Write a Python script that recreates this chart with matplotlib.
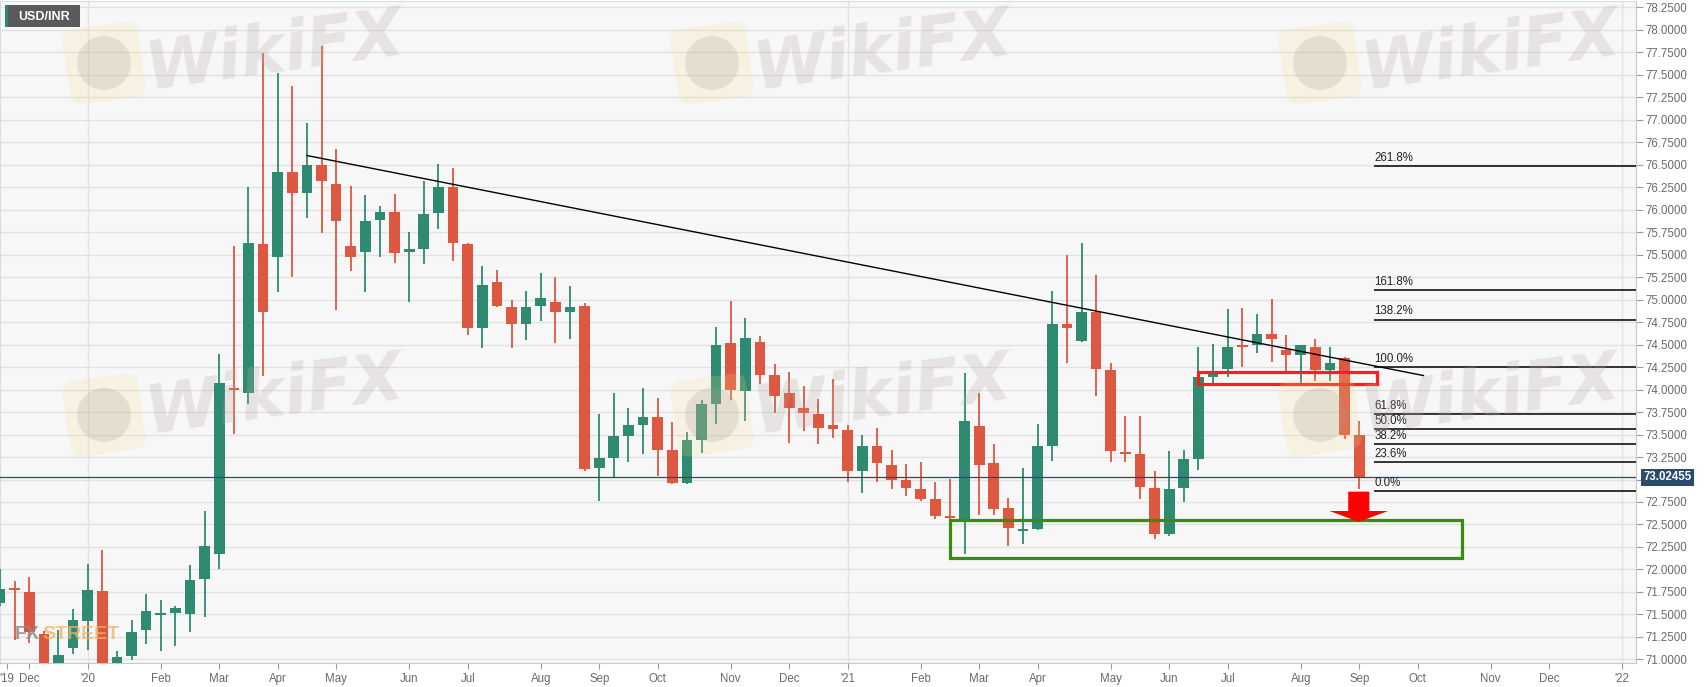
import matplotlib
matplotlib.use("Agg")
import matplotlib.pyplot as plt
import matplotlib.transforms as mtransforms
from matplotlib.patches import Rectangle, FancyBboxPatch, Circle
import numpy as np

plt.rcParams['font.family'] = ['Liberation Sans', 'DejaVu Sans']

# weekly USD/INR candles, index 0 = last week of Nov 2019
opens = [71.63, 71.79, 71.75, 71.28, 70.90, 71.13, 71.43, 71.76, 70.95, 71.04,
         71.33, 71.49, 71.52, 71.51, 71.89, 72.17, 74.02, 73.96, 75.62, 75.47,
         76.42, 76.18, 76.49, 76.28, 75.59, 75.53, 75.88, 75.97, 75.53, 75.56,
         75.96, 76.25, 75.62, 74.68, 75.19, 74.92, 74.73, 74.93, 74.97, 74.86,
         74.93, 73.13, 73.24, 73.48, 73.61, 73.70, 73.33, 72.96, 73.44, 73.84,
         74.52, 73.98, 74.53, 74.16, 73.96, 73.79, 73.73, 73.61, 73.55, 73.09,
         73.37, 73.16, 72.99, 72.90, 72.78, 72.59, 72.56, 73.60, 73.18, 72.68,
         72.43, 72.45, 73.37, 74.73, 74.54, 74.86, 74.22, 73.30, 73.28, 72.91,
         72.39, 72.91, 73.23, 74.14, 74.23, 74.49, 74.49, 74.62, 74.44, 74.38,
         74.47, 74.22, 74.35, 73.50]
highs = [72.00, 71.87, 71.92, 71.32, 71.33, 71.56, 72.06, 72.22, 71.09, 71.44,
         71.73, 71.66, 71.59, 72.05, 72.65, 74.40, 75.60, 76.25, 77.74, 77.52,
         77.37, 76.96, 77.82, 76.67, 76.26, 76.16, 76.04, 76.17, 75.75, 76.32,
         76.51, 76.46, 75.63, 75.37, 75.33, 74.99, 75.10, 75.29, 75.25, 75.15,
         74.96, 73.73, 73.96, 73.79, 74.02, 73.91, 73.64, 73.53, 73.88, 74.70,
         74.98, 74.79, 74.60, 74.28, 74.20, 74.04, 73.89, 74.12, 73.61, 73.49,
         73.57, 73.33, 73.17, 73.20, 72.97, 73.01, 74.18, 73.96, 73.40, 72.79,
         73.13, 73.62, 75.09, 75.50, 75.63, 75.27, 74.30, 73.71, 73.71, 73.09,
         73.32, 73.33, 74.47, 74.51, 74.89, 74.91, 74.84, 75.01, 74.61, 74.50,
         74.56, 74.47, 74.36, 73.65]
lows = [71.59, 71.22, 71.18, 70.75, 70.80, 71.06, 71.10, 70.85, 70.88, 70.99,
        71.17, 71.09, 71.15, 71.30, 71.47, 72.01, 73.51, 73.84, 74.15, 75.08,
        75.25, 75.91, 75.74, 74.88, 75.32, 75.08, 75.47, 75.41, 74.97, 75.39,
        75.78, 75.43, 74.61, 74.46, 74.92, 74.46, 74.55, 74.76, 74.52, 74.56,
        73.10, 72.76, 73.02, 73.20, 73.28, 73.04, 72.95, 72.95, 73.30, 73.62,
        73.88, 73.65, 74.06, 73.74, 73.41, 73.54, 73.40, 73.46, 72.97, 72.85,
        72.97, 72.90, 72.82, 72.76, 72.56, 72.54, 72.17, 72.61, 72.60, 72.26,
        72.28, 72.44, 73.21, 74.29, 74.53, 73.93, 73.19, 73.19, 72.78, 72.34,
        72.37, 72.75, 73.11, 74.05, 74.14, 74.25, 74.41, 74.31, 74.19, 74.07,
        74.09, 74.09, 73.45, 72.90]
closes = [71.78, 71.77, 71.30, 70.85, 71.05, 71.44, 71.77, 70.92, 71.03, 71.31,
          71.54, 71.51, 71.57, 71.88, 72.26, 74.07, 73.99, 75.63, 74.86, 76.42,
          76.18, 76.49, 76.32, 75.87, 75.47, 75.87, 75.97, 75.52, 75.56, 75.95,
          76.25, 75.63, 74.68, 75.16, 74.93, 74.73, 74.92, 75.02, 74.86, 74.92,
          73.12, 73.24, 73.48, 73.61, 73.70, 73.33, 72.96, 73.44, 73.84, 74.49,
          74.00, 74.57, 74.16, 73.93, 73.80, 73.74, 73.57, 73.56, 73.09, 73.37,
          73.18, 73.00, 72.91, 72.78, 72.59, 72.57, 73.65, 73.16, 72.67, 72.46,
          72.45, 73.37, 74.73, 74.68, 74.86, 74.23, 73.32, 73.28, 72.92, 72.39,
          72.90, 73.23, 74.14, 74.18, 74.47, 74.47, 74.62, 74.56, 74.38, 74.49,
          74.22, 74.30, 73.50, 73.02455]

tick_pos = [0.48, 2, 6, 11, 15, 19, 23, 28, 32, 37, 41, 45, 50, 54, 58, 63, 67,
            71, 76, 80, 84, 89, 93, 97, 102, 106, 111]
tick_labels = ["'19", 'Dec', "'20", 'Feb', 'Mar', 'Apr', 'May', 'Jun', 'Jul',
               'Aug', 'Sep', 'Oct', 'Nov', 'Dec', "'21", 'Feb', 'Mar', 'Apr',
               'May', 'Jun', 'Jul', 'Aug', 'Sep', 'Oct', 'Nov', 'Dec', "'22"]
year_lines = [6, 58, 111]

# annotations drawn on the chart
trend_x = [21, 97.4]
trend_y = [76.60, 74.155]
fib_low, fib_high = 72.87, 74.25
fib_ratios = [0.0, 0.236, 0.382, 0.5, 0.618, 1.0, 1.382, 1.618, 2.618]
fib_start = 94.0
resist_box = (82.0, 94.2, 74.06, 74.19)
support_box = (65.0, 100.05, 72.13, 72.55)
arrow_x, arrow_top, arrow_tip = 92.97, 72.865, 72.53

W, H = 1707, 687
GREEN = '#2e8b72'
RED = '#dd5840'


def draw_candles(ax):
    """Draw wicks and bodies of the weekly candles."""
    x = np.arange(len(opens))
    o = np.array(opens)
    c = np.array(closes)
    colors = [GREEN if cc >= oo else RED for oo, cc in zip(o, c)]
    ax.vlines(x, lows, highs, colors=colors, lw=1.3, zorder=3)
    bottom = np.minimum(o, c)
    height = np.maximum(np.abs(c - o), 0.025)
    ax.bar(x, height, bottom=bottom, width=0.73, color=colors, zorder=4)


def draw_watermarks(fig):
    """Faint WikiFX marks laid over the picture."""
    text_rows = [52, 396]
    for row in range(2):
        for col in range(3):
            lx = (104 + 608 * col) / 100
            ly = (H - 63 - 352 * row) / 100
            rot = mtransforms.Affine2D().rotate_deg_around(lx, ly, 8) + fig.dpi_scale_trans
            box = FancyBboxPatch((lx - 0.38, ly - 0.38), 0.76, 0.76,
                                 boxstyle='round,pad=0,rounding_size=0.12',
                                 transform=rot, fc='#f3d98a',
                                 ec='none', alpha=0.2, zorder=5)
            fig.patches.append(box)
            circ = Circle((lx, ly), 0.27, transform=fig.dpi_scale_trans,
                          fc='#a49b98', ec='none', alpha=0.22, zorder=6)
            fig.patches.append(circ)
            fig.text((275 + 608 * col) / W, 1 - text_rows[row] / H, 'WikiFX',
                     fontsize=48, fontweight='bold', style='italic', rotation=8,
                     ha='center', va='center', color='#b5aba8', alpha=0.26,
                     family='DejaVu Sans', zorder=6)


fig = plt.figure(figsize=(W / 100, H / 100), dpi=100, facecolor='white')
ax = fig.add_axes([0, 1 - 663 / H, 1636 / W, 662 / H])
ax.set_facecolor('#f7f7f7')
ax.set_xlim(0, 111.94)
ax.set_ylim(70.961, 78.317)

draw_candles(ax)

# grid
ax.set_yticks(np.arange(71.0, 78.26, 0.25))
ax.yaxis.grid(True, color='#e2e2e2', lw=1)
ax.set_axisbelow(True)
for yl in year_lines:
    ax.axvline(yl, color='#e2e2e2', lw=1, zorder=0)

last = closes[-1]
ax.yaxis.tick_right()
# the price tag hides the tick label nearest to it
ax.set_yticklabels(['' if abs(v - last) < 0.1 else f'{v:.4f}' for v in ax.get_yticks()])
ax.tick_params(axis='y', length=5, width=0.8, color='#9a9a9a', labelsize=8.3,
               labelcolor='#6a6a6a', pad=2)
ax.set_xticks(tick_pos)
ax.set_xticklabels(tick_labels)
ax.tick_params(axis='x', length=4, width=0.8, color='#9a9a9a', labelsize=8.3,
               labelcolor='#6a6a6a', pad=3)
for side in ['top', 'left']:
    ax.spines[side].set_color('#d8dbe8')
for side in ['bottom', 'right']:
    ax.spines[side].set_color('#c8c8c8')

# trend line
ax.plot(trend_x, trend_y, color='black', lw=1.0, zorder=5)

# fibonacci levels
for r in fib_ratios:
    level = fib_low + r * (fib_high - fib_low)
    ax.hlines(level, fib_start, 111.94, color='black', lw=1.1, zorder=5)
    ax.annotate(f'{r * 100:.1f}%', (fib_start + 0.05, level), xytext=(0, 1.5),
                textcoords='offset points', va='bottom', ha='left',
                fontsize=8.3, color='#222222', zorder=6)

# boxes
x0, x1, y0, y1 = resist_box
ax.add_patch(Rectangle((x0, y0), x1 - x0, y1 - y0, fill=False,
                       ec='#ff1e1e', lw=2.3, zorder=6))
x0, x1, y0, y1 = support_box
ax.add_patch(Rectangle((x0, y0), x1 - x0, y1 - y0, fill=False,
                       ec='#3b8c0c', lw=2.3, zorder=6))

# arrow
ax.arrow(arrow_x, arrow_top, 0, arrow_tip - arrow_top, width=1.44,
         head_width=4.0, head_length=0.12, length_includes_head=True,
         fc='#ff0000', ec='none', zorder=7)

# current price
ax.axhline(last, color='#2b4a6e', lw=0.9, zorder=5)
trans = mtransforms.blended_transform_factory(ax.transAxes, ax.transData)
ax.text(1.0045, last, f'{last:.5f}', transform=trans, ha='left', va='center',
        fontsize=8.3, fontweight='bold', color='white', zorder=8, clip_on=False,
        bbox=dict(boxstyle='square,pad=0.24', fc='#2c4a6b', ec='none'))

# symbol label
fig.patches.append(Rectangle((0.05, (H - 27) / 100), 0.75, 0.22,
                             transform=fig.dpi_scale_trans, fc='#5a5a5a',
                             ec='none', zorder=8))
fig.patches.append(Rectangle((0.05, (H - 27) / 100), 0.03, 0.22,
                             transform=fig.dpi_scale_trans, fc=GREEN,
                             ec='none', zorder=9))
fig.text(44 / W, 1 - 16.5 / H, 'USD/INR', ha='center', va='center',
         fontsize=9, fontweight='bold', color='white', zorder=10)

# FXStreet logo
fig.text(15 / W, 1 - 643 / H, 'FX', ha='left', va='bottom', fontsize=14,
         fontweight='bold', color='#8c8c8c', alpha=0.85, zorder=7)
fig.text(42 / W, 1 - 643 / H, 'STREET', ha='left', va='bottom', fontsize=14,
         fontweight='bold', color='#f2b266', alpha=0.8, zorder=7)

draw_watermarks(fig)

fig.savefig('out.png', dpi=100)
